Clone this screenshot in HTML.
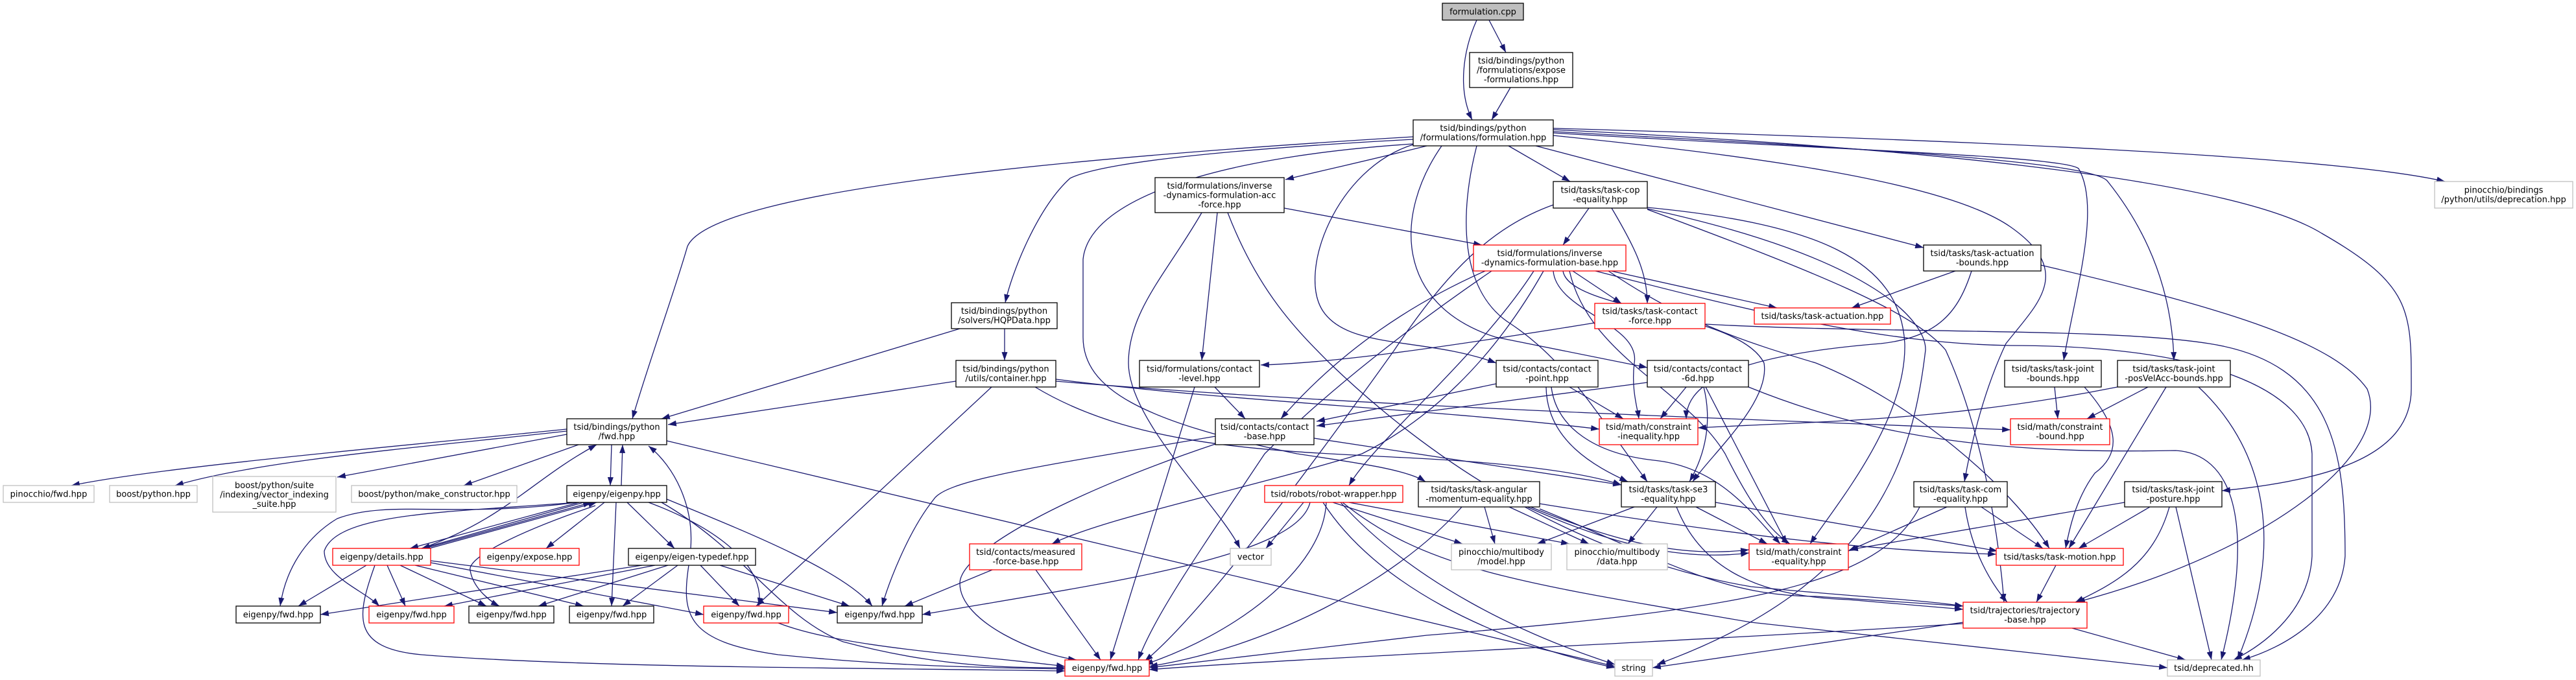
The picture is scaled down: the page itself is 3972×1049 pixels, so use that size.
<!DOCTYPE html>
<html><head><meta charset="utf-8"><style>
html,body{margin:0;padding:0;background:#fff;}
svg{display:block;}
text{font-family:"DejaVu Sans","Liberation Sans",sans-serif;font-size:13px;fill:#000;text-anchor:middle;}
.e{fill:none;stroke:#191970;stroke-width:1.3;marker-end:url(#a);}
.b{fill:#fff;stroke:#000;stroke-width:1.3;}
.r{fill:#fff;stroke:#ff0000;stroke-width:1.3;}
.g{fill:#fff;stroke:#bfbfbf;stroke-width:1.3;}
</style></head><body>
<svg width="3972" height="1049" viewBox="0 0 3972 1049" xmlns="http://www.w3.org/2000/svg">
<defs><marker id="a" viewBox="0 0 10 7" refX="10" refY="3.5" markerWidth="13" markerHeight="9" markerUnits="userSpaceOnUse" orient="auto"><path d="M0,0 L10,3.5 L0,7 z" fill="#191970"/></marker></defs>
<g>
<path class="e" d="M2296,31 L2322,81"/>
<path class="e" d="M2277,31 C2255,80 2248,140 2270,185"/>
<path class="e" d="M2329,135 L2300,185"/>
<path class="e" d="M2179,211 C1700,240 1100,290 1060,380 C1040,450 1000,560 975,646"/>
<path class="e" d="M2179,215 C1900,230 1700,250 1650,275 C1600,320 1560,420 1550,467"/>
<path class="e" d="M2200,225 C2100,250 2030,265 1982,277"/>
<path class="e" d="M2179,222 C1900,240 1680,300 1670,400 L1670,520 C1670,600 1760,650 2000,700 C2100,715 2170,725 2198,743"/>
<path class="e" d="M1596,597 C1800,720 2100,690 2350,720 C2420,728 2470,738 2500,748"/>
<path class="e" d="M2179,223 C2060,260 2000,420 2040,480 C2080,540 2200,520 2307,560"/>
<path class="e" d="M2223,225 C2150,330 2150,470 2306,520 L2540,567"/>
<path class="e" d="M2277,225 C2250,330 2250,450 2330,500 C2420,560 2470,650 2540,743"/>
<path class="e" d="M2326,225 L2421,280"/>
<path class="e" d="M2368,225 L2966,382"/>
<path class="e" d="M2395,205 C2800,230 3180,240 3205,260 C3240,320 3200,450 3182,556"/>
<path class="e" d="M2395,203 C2900,230 3230,250 3250,280 C3330,380 3350,480 3352,556"/>
<path class="e" d="M2395,209 C2700,240 3000,280 3100,350 C3200,420 3140,470 3093,530 C3060,600 3040,680 3029,743"/>
<path class="e" d="M2395,200 C3000,230 3450,280 3580,360 C3720,440 3718,480 3718,600 C3718,700 3600,740 3426,757"/>
<path class="e" d="M2395,198 C3000,215 3600,240 3770,280"/>
<path class="e" d="M1980,321 L2285,378"/>
<path class="e" d="M1877,328 L1853,556"/>
<path class="e" d="M1853,328 C1800,420 1740,480 1740,560 C1740,650 1880,780 1912,846"/>
<path class="e" d="M1893,328 C1940,450 2000,510 2050,560 C2300,800 2550,880 2700,905 C2850,920 2960,925 3027,935"/>
<path class="e" d="M2450,321 L2410,378"/>
<path class="e" d="M2485,321 C2520,380 2540,420 2540,468"/>
<path class="e" d="M2395,316 C2300,350 2230,420 2150,540 C2000,750 1850,950 1765,1020"/>
<path class="e" d="M2540,320 C2800,345 2930,400 2937,530 C2940,650 2830,780 2791,839"/>
<path class="e" d="M2540,323 C2800,420 2950,480 3000,540 C3050,650 3080,800 3090,929"/>
<path class="e" d="M2540,322 C2900,400 2970,500 2969,540 C2950,700 2900,900 2555,1025"/>
<path class="e" d="M2425,418 L2500,468"/>
<path class="e" d="M2484,418 L2740,475"/>
<path class="e" d="M2290,418 C2150,480 2050,560 1975,646"/>
<path class="e" d="M2300,418 C2180,500 2050,600 1950,700 C1850,850 1780,950 1755,1018"/>
<path class="e" d="M2365,418 C2280,550 2120,680 2080,749"/>
<path class="e" d="M2380,418 C2300,560 2200,650 2100,700 C1900,760 1700,800 1622,839"/>
<path class="e" d="M2395,418 C2400,480 2530,500 2520,560 C2515,600 2525,630 2527,646"/>
<path class="e" d="M2410,418 C2420,480 2680,480 2720,560 C2730,620 2640,700 2610,743"/>
<path class="e" d="M2420,418 C2450,550 2600,600 2660,700 C2700,780 2730,820 2760,839"/>
<path class="e" d="M2460,418 C2700,480 2900,530 3100,533 C3400,533 3560,600 3565,700 L3565,858 C3560,950 3480,1000 3444,1018"/>
<path class="e" d="M2480,418 C2600,500 2700,530 2800,560 C2950,620 3100,750 3160,846"/>
<path class="e" d="M2459,498 C2200,540 2050,560 1944,563"/>
<path class="e" d="M2629,500 C2900,515 3250,505 3406,530 C3600,560 3616,700 3616,858 C3610,950 3520,1000 3457,1018"/>
<path class="e" d="M3015,418 L2855,475"/>
<path class="e" d="M3040,418 C3020,480 2990,520 2900,530 C2650,550 2600,600 2600,646"/>
<path class="e" d="M3147,409 C3450,480 3600,530 3650,600 C3690,700 3500,850 3202,929"/>
<path class="e" d="M1480,507 L1020,646"/>
<path class="e" d="M1549,507 L1549,556"/>
<path class="e" d="M1474,588 L1030,655"/>
<path class="e" d="M1529,597 L1166,935"/>
<path class="e" d="M1628,585 C1900,620 2200,630 2466,662"/>
<path class="e" d="M1628,588 C2000,620 2500,640 2972,658 L3100,663"/>
<path class="e" d="M1873,597 L1920,646"/>
<path class="e" d="M1842,597 L1712,1018"/>
<path class="e" d="M1874,673 C1600,720 1460,740 1440,770 C1400,820 1370,900 1360,935"/>
<path class="e" d="M1874,685 C1650,760 1480,850 1480,900 C1480,960 1600,1010 1660,1018"/>
<path class="e" d="M2026,676 L2500,748"/>
<path class="e" d="M2307,592 L2030,650"/>
<path class="e" d="M2420,597 L2503,646"/>
<path class="e" d="M2384,597 C2385,680 2460,720 2510,743"/>
<path class="e" d="M2392,597 C2400,660 2460,700 2550,710 C2650,720 2700,790 2745,839"/>
<path class="e" d="M2540,590 L2030,657"/>
<path class="e" d="M2600,597 L2560,646"/>
<path class="e" d="M2627,597 C2640,650 2630,700 2605,743"/>
<path class="e" d="M2630,597 L2755,839"/>
<path class="e" d="M2696,597 C2900,680 3100,700 3355,695 C3440,700 3480,800 3425,1018"/>
<path class="e" d="M3168,597 L3173,646"/>
<path class="e" d="M3214,597 C3270,660 3270,700 3230,730 C3200,770 3190,820 3185,846"/>
<path class="e" d="M3265,597 C3000,650 2800,650 2618,660"/>
<path class="e" d="M3312,597 L3218,646"/>
<path class="e" d="M3340,597 L3190,846"/>
<path class="e" d="M3390,597 C3500,700 3520,850 3450,1018"/>
<path class="e" d="M2010,775 L1952,846"/>
<path class="e" d="M2020,775 C2000,860 1700,900 1422,948"/>
<path class="e" d="M2045,775 C2040,880 1900,980 1765,1025"/>
<path class="e" d="M2055,775 L2255,839"/>
<path class="e" d="M2080,775 L2420,839"/>
<path class="e" d="M2067,775 C2180,900 2350,980 2490,1025"/>
<path class="e" d="M2040,775 C2120,900 2300,990 2490,1030"/>
<path class="e" d="M2070,775 C2200,880 2350,900 2700,960 L3342,1030"/>
<path class="e" d="M2254,782 C2150,900 1950,1000 1772,1028"/>
<path class="e" d="M2289,782 L2305,839"/>
<path class="e" d="M2327,782 L2450,839"/>
<path class="e" d="M2360,782 C2500,840 2600,860 2697,848"/>
<path class="e" d="M2355,782 C2495,845 2600,865 2697,853"/>
<path class="e" d="M2374,777 C2700,830 2900,850 3078,855"/>
<path class="e" d="M2374,785 C2560,860 2650,920 2800,920 L3027,935"/>
<path class="e" d="M2520,782 L2370,839"/>
<path class="e" d="M2555,782 L2510,839"/>
<path class="e" d="M2615,782 L2725,839"/>
<path class="e" d="M2645,775 L3080,850"/>
<path class="e" d="M2585,782 C2620,870 2700,920 2850,925 L3027,940"/>
<path class="e" d="M3002,782 L2850,850"/>
<path class="e" d="M3055,782 L3150,846"/>
<path class="e" d="M3030,782 C3040,850 3070,900 3095,929"/>
<path class="e" d="M2960,782 C2900,900 2700,940 2200,980 L1772,1030"/>
<path class="e" d="M3276,775 L2852,848"/>
<path class="e" d="M3315,782 L3205,846"/>
<path class="e" d="M3345,782 C3320,870 3260,900 3200,929"/>
<path class="e" d="M3355,782 L3410,1018"/>
<path class="e" d="M3170,872 L3140,929"/>
<path class="e" d="M3027,962 C2600,990 2000,1015 1772,1033"/>
<path class="e" d="M3027,960 L2548,1030"/>
<path class="e" d="M3195,969 L3370,1018"/>
<path class="e" d="M1530,879 L1395,935"/>
<path class="e" d="M1597,879 L1697,1018"/>
<path class="e" d="M1200,961 C1300,1000 1500,1010 1642,1028"/>
<path class="e" d="M874,662 C600,690 250,720 110,749"/>
<path class="e" d="M874,665 C650,690 400,710 270,749"/>
<path class="e" d="M874,670 L520,736"/>
<path class="e" d="M892,686 L715,749"/>
<path class="e" d="M943,686 L941,749"/>
<path class="e" d="M958,749 L960,686"/>
<path class="e" d="M1028,680 L2490,1028"/>
<path class="e" d="M893,775 L632,846"/>
<path class="e" d="M900,775 L650,846"/>
<path class="e" d="M655,846 L912,775"/>
<path class="e" d="M662,846 L920,775"/>
<path class="e" d="M932,775 L842,846"/>
<path class="e" d="M967,775 L1040,846"/>
<path class="e" d="M950,775 L943,935"/>
<path class="e" d="M1000,775 C1120,820 1180,880 1170,935"/>
<path class="e" d="M1028,770 C1150,820 1300,880 1345,935"/>
<path class="e" d="M1020,775 C1150,850 1200,950 1300,990 C1450,1030 1560,1030 1642,1030"/>
<path class="e" d="M890,775 C700,800 600,770 520,800 C470,830 440,880 432,935"/>
<path class="e" d="M890,775 C700,790 520,790 500,850 C500,890 560,910 585,935"/>
<path class="e" d="M918,780 C800,820 720,860 725,880 C730,910 760,930 770,935"/>
<path class="e" d="M650,846 C780,800 820,740 920,686"/>
<path class="e" d="M1065,846 C1070,780 1040,720 1000,688"/>
<path class="e" d="M565,872 L460,935"/>
<path class="e" d="M597,872 L625,935"/>
<path class="e" d="M617,872 L750,935"/>
<path class="e" d="M640,872 L900,935"/>
<path class="e" d="M664,868 L1085,948"/>
<path class="e" d="M664,865 L1291,945"/>
<path class="e" d="M578,872 C550,950 540,1000 650,1010 C900,1030 1300,1030 1642,1035"/>
<path class="e" d="M990,872 L494,948"/>
<path class="e" d="M1010,872 L685,935"/>
<path class="e" d="M1030,872 L830,935"/>
<path class="e" d="M1045,872 L960,935"/>
<path class="e" d="M1080,872 L1140,935"/>
<path class="e" d="M1110,872 L1310,935"/>
<path class="e" d="M1062,872 C1050,950 1060,990 1200,1010 C1400,1030 1550,1030 1642,1032"/>
</g>
<g>
<rect x="2224" y="5" width="125" height="26" fill="#bfbfbf" stroke="#000" stroke-width="1.3"/><text x="2286.5" y="22.5">formulation.cpp</text>
<rect class="b" x="2266" y="81" width="159" height="54"/><text x="2345.5" y="98">tsid/bindings/python</text><text x="2345.5" y="112.5">/formulations/expose</text><text x="2345.5" y="127">-formulations.hpp</text>
<rect class="b" x="2179" y="185" width="216" height="40"/><text x="2287" y="202">tsid/bindings/python</text><text x="2287" y="216.5">/formulations/formulation.hpp</text>
<rect class="b" x="1781" y="274" width="199" height="54"/><text x="1880.5" y="291">tsid/formulations/inverse</text><text x="1880.5" y="305.5">-dynamics-formulation-acc</text><text x="1880.5" y="320">-force.hpp</text>
<rect class="b" x="2395" y="280" width="145" height="41"/><text x="2467.5" y="297.5">tsid/tasks/task-cop</text><text x="2467.5" y="312">-equality.hpp</text>
<rect class="g" x="3754" y="280" width="213" height="41"/><text x="3860.5" y="297.5">pinocchio/bindings</text><text x="3860.5" y="312">/python/utils/deprecation.hpp</text>
<rect class="r" x="2272" y="378" width="235" height="40"/><text x="2389.5" y="395">tsid/formulations/inverse</text><text x="2389.5" y="409.5">-dynamics-formulation-base.hpp</text>
<rect class="b" x="2966" y="378" width="181" height="40"/><text x="3056.5" y="395">tsid/tasks/task-actuation</text><text x="3056.5" y="409.5">-bounds.hpp</text>
<rect class="r" x="2459" y="468" width="170" height="39"/><text x="2544" y="484.5">tsid/tasks/task-contact</text><text x="2544" y="499">-force.hpp</text>
<rect class="r" x="2705" y="475" width="210" height="25"/><text x="2810" y="492">tsid/tasks/task-actuation.hpp</text>
<rect class="b" x="1467" y="467" width="163" height="40"/><text x="1548.5" y="484">tsid/bindings/python</text><text x="1548.5" y="498.5">/solvers/HQPData.hpp</text>
<rect class="b" x="1474" y="556" width="154" height="41"/><text x="1551" y="573.5">tsid/bindings/python</text><text x="1551" y="588">/utils/container.hpp</text>
<rect class="b" x="1757" y="556" width="185" height="41"/><text x="1849.5" y="573.5">tsid/formulations/contact</text><text x="1849.5" y="588">-level.hpp</text>
<rect class="b" x="2307" y="556" width="157" height="41"/><text x="2385.5" y="573.5">tsid/contacts/contact</text><text x="2385.5" y="588">-point.hpp</text>
<rect class="b" x="2540" y="556" width="156" height="41"/><text x="2618" y="573.5">tsid/contacts/contact</text><text x="2618" y="588">-6d.hpp</text>
<rect class="b" x="3091" y="556" width="149" height="41"/><text x="3165.5" y="573.5">tsid/tasks/task-joint</text><text x="3165.5" y="588">-bounds.hpp</text>
<rect class="b" x="3265" y="556" width="174" height="41"/><text x="3352" y="573.5">tsid/tasks/task-joint</text><text x="3352" y="588">-posVelAcc-bounds.hpp</text>
<rect class="b" x="874" y="646" width="154" height="40"/><text x="951" y="663">tsid/bindings/python</text><text x="951" y="677.5">/fwd.hpp</text>
<rect class="b" x="1874" y="646" width="152" height="40"/><text x="1950" y="663">tsid/contacts/contact</text><text x="1950" y="677.5">-base.hpp</text>
<rect class="r" x="2466" y="646" width="152" height="40"/><text x="2542" y="663">tsid/math/constraint</text><text x="2542" y="677.5">-inequality.hpp</text>
<rect class="r" x="3100" y="646" width="153" height="40"/><text x="3176.5" y="663">tsid/math/constraint</text><text x="3176.5" y="677.5">-bound.hpp</text>
<rect class="g" x="5" y="749" width="140" height="26"/><text x="75" y="766.5">pinocchio/fwd.hpp</text>
<rect class="g" x="169" y="749" width="135" height="26"/><text x="236.5" y="766.5">boost/python.hpp</text>
<rect class="g" x="328" y="735" width="190" height="55"/><text x="423" y="753">boost/python/suite</text><text x="423" y="767.5">/indexing/vector_indexing</text><text x="423" y="782">_suite.hpp</text>
<rect class="g" x="542" y="749" width="255" height="26"/><text x="669.5" y="766.5">boost/python/make_constructor.hpp</text>
<rect class="b" x="874" y="749" width="154" height="26"/><text x="951" y="766.5">eigenpy/eigenpy.hpp</text>
<rect class="r" x="1950" y="749" width="213" height="26"/><text x="2056.5" y="766.5">tsid/robots/robot-wrapper.hpp</text>
<rect class="b" x="2187" y="743" width="187" height="39"/><text x="2280.5" y="759.5">tsid/tasks/task-angular</text><text x="2280.5" y="774">-momentum-equality.hpp</text>
<rect class="b" x="2500" y="743" width="145" height="39"/><text x="2572.5" y="759.5">tsid/tasks/task-se3</text><text x="2572.5" y="774">-equality.hpp</text>
<rect class="b" x="2951" y="743" width="144" height="39"/><text x="3023" y="759.5">tsid/tasks/task-com</text><text x="3023" y="774">-equality.hpp</text>
<rect class="b" x="3276" y="743" width="150" height="39"/><text x="3351" y="759.5">tsid/tasks/task-joint</text><text x="3351" y="774">-posture.hpp</text>
<rect class="r" x="513" y="846" width="151" height="26"/><text x="588.5" y="863.5">eigenpy/details.hpp</text>
<rect class="r" x="740" y="846" width="153" height="26"/><text x="816.5" y="863.5">eigenpy/expose.hpp</text>
<rect class="b" x="969" y="846" width="196" height="26"/><text x="1067" y="863.5">eigenpy/eigen-typedef.hpp</text>
<rect class="r" x="1495" y="839" width="173" height="40"/><text x="1581.5" y="856">tsid/contacts/measured</text><text x="1581.5" y="870.5">-force-base.hpp</text>
<rect class="g" x="1897" y="846" width="63" height="26"/><text x="1928.5" y="863.5">vector</text>
<rect class="g" x="2238" y="839" width="154" height="40"/><text x="2315" y="856">pinocchio/multibody</text><text x="2315" y="870.5">/model.hpp</text>
<rect class="g" x="2416" y="839" width="155" height="40"/><text x="2493.5" y="856">pinocchio/multibody</text><text x="2493.5" y="870.5">/data.hpp</text>
<rect class="r" x="2697" y="839" width="153" height="40"/><text x="2773.5" y="856">tsid/math/constraint</text><text x="2773.5" y="870.5">-equality.hpp</text>
<rect class="r" x="3078" y="846" width="196" height="26"/><text x="3176" y="863.5">tsid/tasks/task-motion.hpp</text>
<rect class="b" x="364" y="935" width="130" height="26"/><text x="429" y="952.5">eigenpy/fwd.hpp</text>
<rect class="r" x="569" y="935" width="131" height="26"/><text x="634.5" y="952.5">eigenpy/fwd.hpp</text>
<rect class="b" x="723" y="935" width="131" height="26"/><text x="788.5" y="952.5">eigenpy/fwd.hpp</text>
<rect class="b" x="878" y="935" width="130" height="26"/><text x="943" y="952.5">eigenpy/fwd.hpp</text>
<rect class="r" x="1085" y="935" width="131" height="26"/><text x="1150.5" y="952.5">eigenpy/fwd.hpp</text>
<rect class="b" x="1291" y="935" width="131" height="26"/><text x="1356.5" y="952.5">eigenpy/fwd.hpp</text>
<rect class="r" x="3027" y="929" width="191" height="40"/><text x="3122.5" y="946">tsid/trajectories/trajectory</text><text x="3122.5" y="960.5">-base.hpp</text>
<rect class="r" x="1642" y="1018" width="130" height="25"/><text x="1707" y="1035">eigenpy/fwd.hpp</text>
<rect class="g" x="2490" y="1018" width="58" height="25"/><text x="2519" y="1035">string</text>
<rect class="g" x="3342" y="1018" width="143" height="25"/><text x="3413.5" y="1035">tsid/deprecated.hh</text>
</g>
</svg>
</body></html>
